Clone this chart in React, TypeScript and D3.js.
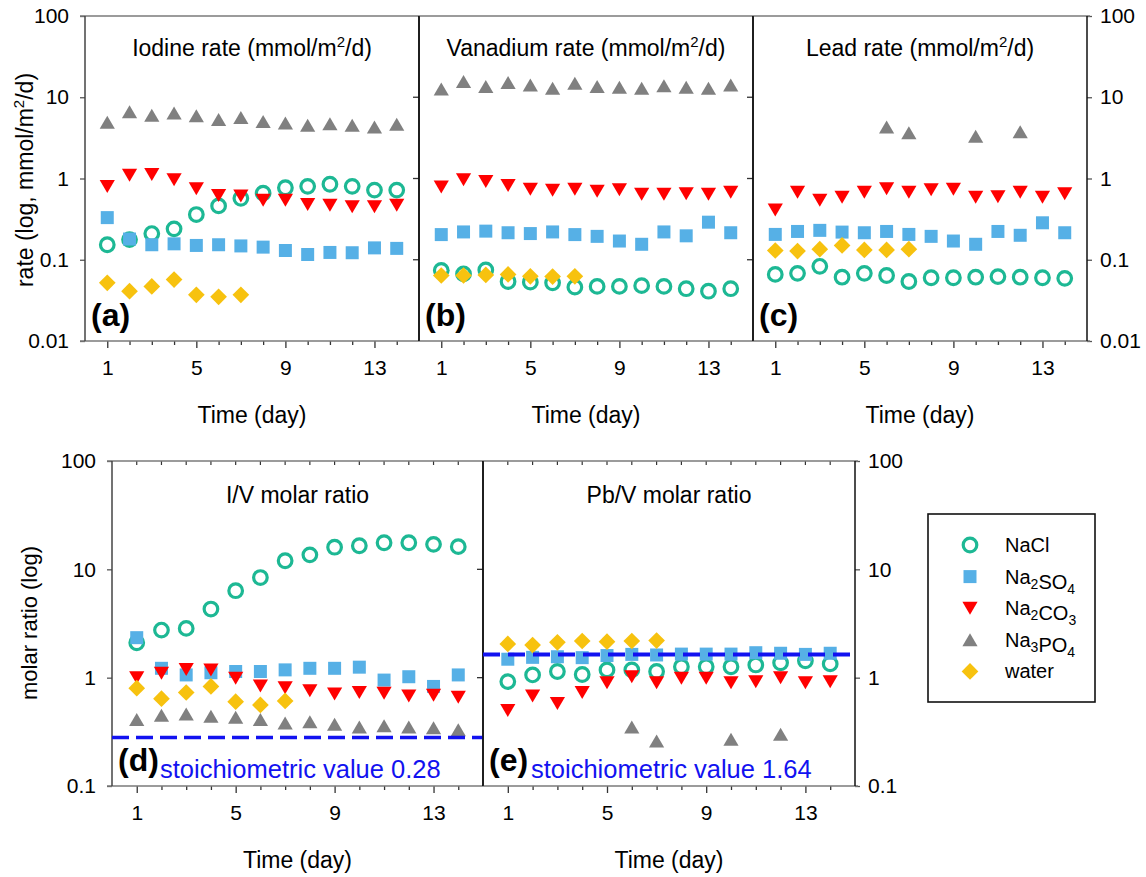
import { useEffect, useRef } from "react";
import * as d3 from "d3";

const days = [1, 2, 3, 4, 5, 6, 7, 8, 9, 10, 11, 12, 13, 14];
const xTickLabels = [1, 5, 9, 13];
const rateTicks = [0.01, 0.1, 1, 10, 100];
const ratioTicks = [0.1, 1, 10, 100];

const seriesNames = ["NaCl", "Na2SO4", "Na2CO3", "Na3PO4", "water"];

// (a) iodine rate, mmol/m2/d
const iodineNaCl = [0.153, 0.177, 0.21, 0.24, 0.36, 0.46, 0.57, 0.66, 0.77, 0.8, 0.85, 0.8, 0.72, 0.72];
const iodineNa2SO4 = [0.33, 0.18, 0.153, 0.157, 0.15, 0.153, 0.148, 0.143, 0.13, 0.116, 0.123, 0.122, 0.14, 0.138];
const iodineNa2CO3 = [0.8, 1.1, 1.12, 0.97, 0.75, 0.62, 0.61, 0.54, 0.54, 0.48, 0.47, 0.45, 0.45, 0.47];
const iodineNa3PO4 = [4.9, 6.6, 6.0, 6.4, 5.9, 5.3, 5.6, 5.0, 4.8, 4.5, 4.7, 4.5, 4.3, 4.65];
const iodineWater = [0.052, 0.041, 0.047, 0.057, 0.037, 0.035, 0.037, null, null, null, null, null, null, null];

// (b) vanadium rate
const vanadiumNaCl = [0.074, 0.067, 0.075, 0.054, 0.053, 0.052, 0.046, 0.047, 0.047, 0.048, 0.047, 0.044, 0.041, 0.044];
const vanadiumNa2SO4 = [0.204, 0.22, 0.225, 0.215, 0.21, 0.22, 0.204, 0.194, 0.17, 0.155, 0.22, 0.197, 0.29, 0.215];
const vanadiumNa2CO3 = [0.79, 0.97, 0.92, 0.82, 0.74, 0.72, 0.74, 0.7, 0.73, 0.64, 0.64, 0.65, 0.64, 0.68];
const vanadiumNa3PO4 = [12.6, 15.6, 13.5, 15.2, 14.1, 12.9, 14.8, 13.5, 13.2, 12.9, 13.8, 13.2, 12.9, 14.1];
const vanadiumWater = [0.064, 0.064, 0.065, 0.066, 0.0625, 0.062, 0.0625, null, null, null, null, null, null, null];

// (c) lead rate
const leadNaCl = [0.066, 0.068, 0.083, 0.061, 0.068, 0.064, 0.054, 0.06, 0.06, 0.061, 0.062, 0.061, 0.06, 0.059];
const leadNa2SO4 = [0.205, 0.223, 0.23, 0.219, 0.215, 0.223, 0.205, 0.194, 0.17, 0.155, 0.223, 0.2, 0.285, 0.215];
const leadNa2CO3 = [0.41, 0.68, 0.54, 0.59, 0.68, 0.75, 0.68, 0.73, 0.74, 0.59, 0.6, 0.68, 0.59, 0.65];
const leadNa3PO4 = [null, null, null, null, null, 4.3, 3.65, null, null, 3.3, null, 3.76, null, null];
const leadWater = [0.13, 0.128, 0.135, 0.15, 0.132, 0.132, 0.135, null, null, null, null, null, null, null];

// (d) I/V molar ratio
const ivNaCl = [2.1, 2.75, 2.85, 4.3, 6.35, 8.4, 12.0, 13.6, 16.0, 16.5, 17.6, 17.6, 17.0, 16.2];
const ivNa2SO4 = [2.34, 1.22, 1.06, 1.11, 1.14, 1.14, 1.18, 1.22, 1.22, 1.25, 0.95, 1.02, 0.83, 1.06];
const ivNa2CO3 = [1.0, 1.1, 1.19, 1.18, 0.99, 0.84, 0.81, 0.76, 0.71, 0.73, 0.72, 0.68, 0.69, 0.66];
const ivNa3PO4 = [0.41, 0.45, 0.46, 0.44, 0.43, 0.41, 0.38, 0.39, 0.37, 0.35, 0.36, 0.35, 0.345, 0.33];
const ivWater = [0.8, 0.64, 0.73, 0.83, 0.6, 0.56, 0.61, null, null, null, null, null, null, null];

// (e) Pb/V molar ratio
const pbvNaCl = [0.92, 1.06, 1.14, 1.07, 1.18, 1.18, 1.14, 1.26, 1.26, 1.26, 1.31, 1.37, 1.43, 1.34];
const pbvNa2SO4 = [1.48, 1.54, 1.56, 1.53, 1.6, 1.64, 1.62, 1.65, 1.65, 1.65, 1.7, 1.68, 1.64, 1.68];
const pbvNa2CO3 = [0.5, 0.68, 0.58, 0.73, 0.9, 1.02, 0.9, 0.99, 0.99, 0.9, 0.92, 1.0, 0.9, 0.92];
const pbvNa3PO4 = [null, null, null, null, null, 0.35, 0.26, null, null, 0.27, null, 0.3, null, null];
const pbvWater = [2.05, 2.0, 2.12, 2.18, 2.15, 2.18, 2.2, null, null, null, null, null, null, null];

const stoichIV = 0.28;
const stoichPbV = 1.64;

const FONT = "'Liberation Sans', Arial, sans-serif";
const colors = ["#1db894", "#56b0e6", "#ff0000", "#808080", "#f7c20f"];
const BLUE = "#1212f0";

// marker shapes, centred on their bounding box
const markerPath = [
  d3.symbol(d3.symbolCircle, Math.PI * 6.8 * 6.8)(),
  d3.symbol(d3.symbolSquare, 13 * 13)(),
  "M0,6.6L7.6,-6.4L-7.6,-6.4Z",
  "M0,-6.6L7.6,6.4L-7.6,6.4Z",
  d3.symbol(d3.symbolSquare, 11.8 * 11.8)(),
];

function App() {
  const chartRef = useRef<SVGSVGElement>(null);

  useEffect(() => {
    const svg = d3.select(chartRef.current);
    svg.selectAll("*").remove();

    const topRow = { top: 16, bottom: 341, domain: [0.01, 100], ticks: rateTicks };
    const bottomRow = { top: 461, bottom: 786, domain: [0.1, 100], ticks: ratioTicks };

    const panels = [
      { letter: "(a)", title: "Iodine rate (mmol/m", sup: true, left: 85, right: 419, row: topRow, pos: "first",
        data: [iodineNaCl, iodineNa2SO4, iodineNa2CO3, iodineNa3PO4, iodineWater] },
      { letter: "(b)", title: "Vanadium rate (mmol/m", sup: true, left: 419, right: 753, row: topRow, pos: "mid",
        data: [vanadiumNaCl, vanadiumNa2SO4, vanadiumNa2CO3, vanadiumNa3PO4, vanadiumWater] },
      { letter: "(c)", title: "Lead rate (mmol/m", sup: true, left: 753, right: 1087, row: topRow, pos: "last",
        data: [leadNaCl, leadNa2SO4, leadNa2CO3, leadNa3PO4, leadWater] },
      { letter: "(d)", title: "I/V molar ratio", sup: false, left: 112, right: 483, row: bottomRow, pos: "first",
        data: [ivNaCl, ivNa2SO4, ivNa2CO3, ivNa3PO4, ivWater], stoich: stoichIV, dash: "17,7", dashW: 3.5 },
      { letter: "(e)", title: "Pb/V molar ratio", sup: false, left: 483, right: 855, row: bottomRow, pos: "last",
        data: [pbvNaCl, pbvNa2SO4, pbvNa2CO3, pbvNa3PO4, pbvWater], stoich: stoichPbV, dash: "17,8", dashW: 4 },
    ];

    panels.forEach((p) => {
      const { top, bottom } = p.row;
      const x = d3.scaleLinear().domain([0, 15]).range([p.left, p.right]);
      const y = d3.scaleLog().domain(p.row.domain).range([bottom, top]);
      const g = svg.append("g").style("font-family", FONT);

      // x axis ticks
      const xAxis = d3
        .axisBottom(x)
        .tickValues(days)
        .tickSize(5)
        .tickSizeOuter(0)
        .tickFormat((d) => (xTickLabels.includes(+d) ? String(d) : ""));
      const xg = g.append("g").attr("transform", `translate(0,${bottom})`).call(xAxis);
      xg.select(".domain").remove();
      xg.selectAll(".tick line")
        .attr("stroke", "#333")
        .attr("stroke-width", 1.3)
        .attr("y2", (d: any) => (xTickLabels.includes(d) ? 7 : 4));
      xg.selectAll(".tick text")
        .attr("y", 34)
        .attr("dy", null)
        .style("font-size", "21px")
        .attr("fill", "#000");

      if (p.row === bottomRow) {
        g.selectAll(null)
          .data(days)
          .join("line")
          .attr("x1", (d) => x(d))
          .attr("x2", (d) => x(d))
          .attr("y1", top)
          .attr("y2", top + 4)
          .attr("stroke", "#333")
          .attr("stroke-width", 1.2);
      }

      // y axes
      if (p.pos === "first") {
        const yg = g
          .append("g")
          .attr("transform", `translate(${p.left},0)`)
          .call(d3.axisLeft(y).tickValues(p.row.ticks).tickSize(5).tickPadding(11).tickFormat((d) => String(d)));
        yg.select(".domain").remove();
        yg.selectAll(".tick line").attr("stroke", "#555").attr("stroke-width", 1.3);
        yg.selectAll(".tick text").style("font-size", "21px").attr("fill", "#000");
      }
      if (p.pos === "last") {
        const yg = g
          .append("g")
          .attr("transform", `translate(${p.right},0)`)
          .call(d3.axisRight(y).tickValues(p.row.ticks).tickSize(5).tickPadding(8).tickFormat((d) => String(d)));
        yg.select(".domain").remove();
        yg.selectAll(".tick line").attr("stroke", "#555").attr("stroke-width", 1.3);
        yg.selectAll(".tick text").style("font-size", "21px").attr("fill", "#000");
      } else {
        g.selectAll(null)
          .data(p.row.ticks.slice(1, -1))
          .join("line")
          .attr("x1", p.right - 6)
          .attr("x2", p.right)
          .attr("y1", (d) => y(d))
          .attr("y2", (d) => y(d))
          .attr("stroke", "#333")
          .attr("stroke-width", 1.3);
      }

      // frame
      const hx0 = p.pos === "first" ? p.left - 5 : p.left;
      const hx1 = p.pos === "last" ? p.right + 3 : p.right;
      [top, bottom].forEach((yy) =>
        g.append("line").attr("x1", hx0).attr("x2", hx1).attr("y1", yy).attr("y2", yy)
          .attr("stroke", "#7a7a7a").attr("stroke-width", 1.5)
      );
      [p.left, p.right].forEach((xx, i) =>
        g.append("line").attr("x1", xx).attr("x2", xx).attr("y1", top).attr("y2", bottom)
          .attr("stroke", i === 0 && p.pos === "first" ? "#444" : "#111").attr("stroke-width", 1.5)
      );

      // title
      const cx = (p.left + p.right) / 2;
      const t = g.append("text")
        .attr("x", cx)
        .attr("y", top + (p.row === topRow ? 40 : 42))
        .attr("text-anchor", "middle")
        .style("font-size", "23px")
        .attr("fill", "#000");
      t.append("tspan").text(p.title);
      if (p.sup) {
        t.append("tspan").attr("dy", -9).style("font-size", "15px").text("2");
        t.append("tspan").attr("dy", 9).text("/d)");
      }

      // x axis title
      g.append("text")
        .attr("x", cx)
        .attr("y", bottom + 82)
        .attr("text-anchor", "middle")
        .style("font-size", "23px")
        .attr("fill", "#000")
        .text("Time (day)");

      // markers
      p.data.forEach((vals, si) => {
        const pts = days
          .map((d, i) => ({ day: d, v: vals[i] }))
          .filter((q) => q.v != null) as { day: number; v: number }[];
        g.selectAll(null)
          .data(pts)
          .join("path")
          .attr("d", markerPath[si])
          .attr("transform", (q) => `translate(${x(q.day)},${y(q.v)})${si === 4 ? " rotate(45)" : ""}`)
          .attr("fill", si === 0 ? "none" : colors[si])
          .attr("stroke", si === 0 ? colors[si] : "none")
          .attr("stroke-width", 3.2);
      });

      // stoichiometric line
      if (p.stoich) {
        g.append("line")
          .attr("x1", p.left)
          .attr("x2", p.right)
          .attr("y1", y(p.stoich))
          .attr("y2", y(p.stoich))
          .attr("stroke", BLUE)
          .attr("stroke-width", p.dashW)
          .attr("stroke-dasharray", p.dash);
        g.append("text")
          .attr("x", p.left + 48)
          .attr("y", bottom - 8)
          .style("font-size", "25.5px")
          .attr("fill", BLUE)
          .text(`stoichiometric value ${p.stoich}`);
      }

      // panel letter
      g.append("text")
        .attr("x", p.left + 6)
        .attr("y", bottom - 15)
        .style("font-size", "32px")
        .style("font-weight", "bold")
        .attr("fill", "#000")
        .text(p.letter);
    });

    // y axis titles
    const yt = svg.append("text")
      .attr("transform", "translate(33,180) rotate(-90)")
      .attr("text-anchor", "middle")
      .style("font-family", FONT)
      .style("font-size", "23px")
      .attr("fill", "#000");
    yt.append("tspan").text("rate (log, mmol/m");
    yt.append("tspan").attr("dy", -9).style("font-size", "15px").text("2");
    yt.append("tspan").attr("dy", 9).text("/d)");

    svg.append("text")
      .attr("transform", "translate(37,623) rotate(-90)")
      .attr("text-anchor", "middle")
      .style("font-family", FONT)
      .style("font-size", "22px")
      .attr("fill", "#000")
      .text("molar ratio (log)");

    // legend
    const lg = svg.append("g").style("font-family", FONT);
    lg.append("rect")
      .attr("x", 928)
      .attr("y", 514)
      .attr("width", 167)
      .attr("height", 188)
      .attr("fill", "none")
      .attr("stroke", "#111")
      .attr("stroke-width", 1.6);
    seriesNames.forEach((name, i) => {
      const ry = 545 + i * 31.6;
      lg.append("path")
        .attr("d", markerPath[i])
        .attr("transform", `translate(970,${ry})${i === 4 ? " rotate(45)" : ""}`)
        .attr("fill", i === 0 ? "none" : colors[i])
        .attr("stroke", i === 0 ? colors[i] : "none")
        .attr("stroke-width", 3.2);
      const tx = lg.append("text")
        .attr("x", 1005)
        .attr("y", ry + 7)
        .style("font-size", "20px")
        .attr("fill", "#000");
      name.split(/(\d)/).filter((s) => s !== "").forEach((part) => {
        if (/\d/.test(part)) {
          tx.append("tspan").attr("dy", 5).style("font-size", "14px").text(part);
          tx.append("tspan").attr("dy", -5).text("");
        } else {
          tx.append("tspan").text(part);
        }
      });
    });
  }, []);

  return (
    <svg
      ref={chartRef}
      width={1146}
      height={877}
      style={{ position: "absolute", left: 0, top: 0, background: "#fff" }}
    ></svg>
  );
}

export default App;
